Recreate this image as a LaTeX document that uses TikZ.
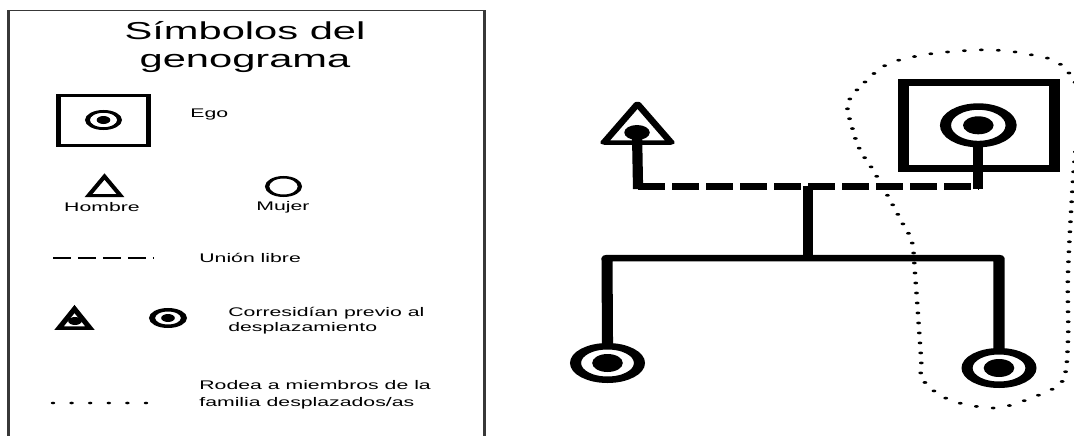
\documentclass[tikz,border=0pt]{standalone}
\usepackage{fontspec}
\setmainfont{Liberation Sans}
\usetikzlibrary{shapes.geometric}
\tikzset{
  person/.style={ellipse, draw, inner sep=0pt},
  boxsym/.style={rectangle, draw, inner sep=0pt},
  dotsym/.style={circle, fill, inner sep=0pt},
  heavy/.style={line width=6.5pt, line join=round},
  uniondash/.style={line width=7pt, dash pattern=on 15.9pt off 4.1pt},
  enclose/.style={line width=2.8pt, line cap=round, dash pattern=on 0pt off 10pt},
  smalltext/.style={inner sep=0pt, font=\fontsize{12.5}{15}\selectfont},
  frameline/.style={draw=black!78, line width=1.3pt}
}
\begin{document}
\begin{tikzpicture}
\useasboundingbox (0,0) rectangle (1074pt,-436pt);
\fill[white] (0,0) rectangle (1074pt,-436pt);
\begin{scope}[transform canvas={xscale=1.7}, x={(0.588235pt,0pt)}, y={(0pt,-1pt)}]
  % ---------- legend panel ----------
  \draw[frameline] (8.5,445) -- (8.5,10.5) -- (484.5,10.5) -- (484.5,445);
  \node[inner sep=0pt, align=center, font=\fontsize{24.5}{28}\selectfont] (title) at (245,47) {Símbolos del\\genograma};

  % Ego
  \node[boxsym, line width=3pt, minimum width=52.9pt, minimum height=50pt] (legobox) at (103.5,120.5) {};
  \node[person, line width=2.8pt, minimum width=18.9pt, minimum height=17.2pt] (legocirc) at (103.5,120) {};
  \fill (legocirc.center) circle[radius=4pt];
  \node[smalltext, anchor=west] (egolab) at (190,114) {Ego};

  % Hombre / Mujer
  \draw[line width=2.8pt, line join=miter] (88.5,195.6) -- (104.5,176.5) -- (120.5,195.6) -- cycle;
  \node[smalltext] (hombre) at (102,207.5) {Hombre};
  \node[person, line width=2.5pt, minimum width=19.3pt, minimum height=18.5pt] (mujersym) at (283.5,186.5) {};
  \node[smalltext] (mujer) at (283,207.5) {Mujer};

  % Union libre
  \coordinate (ul1) at (53,258);
  \coordinate (ul2) at (153,258);
  \draw[line width=2.6pt, dash pattern=on 10.6pt off 4.1pt] (ul1) -- (ul2);
  \node[smalltext, anchor=west] (unionlab) at (199,258) {Unión libre};

  % Corresidian
  \draw[line width=3.5pt, line join=miter] (59,328.2) -- (74.5,309) -- (90,328.2) -- cycle;
  \fill (75,321) circle[radius=4pt];
  \node[person, line width=3.5pt, minimum width=18.8pt, minimum height=16.5pt] (corcirc) at (168,318) {};
  \fill (corcirc.center) circle[radius=4pt];
  \node[smalltext, anchor=west, align=left] (corlab) at (228,320.8) {Corresidían previo al\\desplazamiento};

  % Rodea
  \coordinate (rd1) at (53,403);
  \coordinate (rd2) at (147,403);
  \draw[line width=2.6pt, line cap=round, dash pattern=on 0pt off 10.94pt] (rd1) -- (rd2);
  \node[smalltext, anchor=west, align=left, font=\fontsize{12.5}{17}\selectfont] (rodlab) at (199,394.5) {Rodea a miembros de la\\familia desplazados/as};

  % ---------- genogram ----------
  % father (triangle with dot)
  \draw[line width=4.5pt, line join=round] (604,142.5) -- (637.5,104) -- (671,142.5) -- cycle;
  \node[dotsym, minimum size=15pt] (fdot) at (637,132.5) {};

  % ego (boxed woman)
  \node[boxsym, line width=6.5pt, minimum width=88.8pt, minimum height=86.2pt] (egobox) at (979,125.4) {};
  \node[person, line width=6.5pt, minimum width=38.6pt, minimum height=37.5pt] (ego) at (978.3,125.3) {};
  \fill (ego.center) circle[radius=9pt];

  % children
  \node[person, line width=6.5pt, minimum width=37.6pt, minimum height=33.5pt] (c1) at (607.5,363) {};
  \fill (c1.center) circle[radius=9pt];
  \node[person, line width=6.5pt, minimum width=37.6pt, minimum height=33.5pt] (c2) at (999,368) {};
  \fill (c2.center) circle[radius=9pt];

  % connectors
  \coordinate (fc) at (638,186);
  \coordinate (mc) at (978.3,186);
  \coordinate (mid) at (808,186);
  \coordinate (sl) at (607,258);
  \coordinate (sm) at (808,258);
  \coordinate (sr) at (999,258);
  \draw[line width=6pt, line cap=rect] (fdot.center) -- (fc);
  \draw[uniondash] (fc) -- (mc);
  \draw[line width=6pt, line cap=rect] (ego.south) -- (mc);
  \draw[line width=6pt] (mid) -- (sm);
  \draw[heavy] (c1.north) -- (sl) -- (sr) -- (c2.north);

  % enclosure of displaced members
  \draw[enclose] plot[smooth cycle, tension=0.6] coordinates {
    (848,103) (865,82) (888,64) (923,55) (960,51) (993,50) (1027,54) (1060,64)
    (1080,95) (1077,135) (1073,180) (1068,273) (1068,340) (1063,380) (1043,393)
    (1020,402) (993,408) (950,400) (923,380) (921,357) (915,273) (912,242)
    (904,226) (890,200) (873,170) (860,150) (852,127)};
\end{scope}
\end{tikzpicture}
\end{document}
